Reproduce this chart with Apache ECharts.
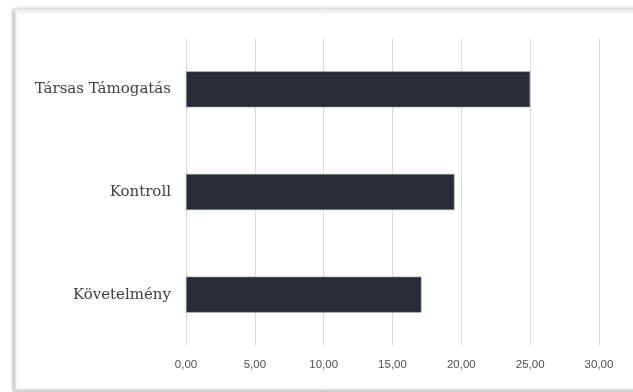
<!DOCTYPE html>
<html>
<head>
<meta charset="utf-8">
<script src="https://cdn.jsdelivr.net/npm/echarts@6/dist/echarts.min.js"></script>
<style>
html,body{margin:0;padding:0;background:#fff;}
#chart{width:633px;height:392px;}
</style>
</head>
<body>
<div id="chart"></div>
<script>
var categories = ['Követelmény', 'Kontroll', 'Társas Támogatás'];
var values = [17.1, 19.5, 25.0];
var xTicks = [0, 5, 10, 15, 20, 25, 30];

var chart = echarts.init(document.getElementById('chart'));
chart.setOption({
  animation: false,
  graphic: [{
    type: 'rect',
    z: -10,
    shape: { x: 15, y: 9, width: 640, height: 381 },
    style: {
      fill: '#fff',
      stroke: '#dcdcdc',
      lineWidth: 1,
      shadowBlur: 4,
      shadowOffsetX: -1,
      shadowOffsetY: 1,
      shadowColor: 'rgba(0,0,0,0.35)'
    }
  }],
  grid: { left: 186, right: 34, top: 38, bottom: 46, containLabel: false },
  xAxis: {
    type: 'value',
    min: xTicks[0],
    max: xTicks[xTicks.length - 1],
    interval: 5,
    axisLine: { show: false },
    axisTick: { show: false },
    splitLine: { show: true, lineStyle: { color: '#d9d9d9', width: 1 } },
    axisLabel: {
      margin: 13,
      color: '#505050',
      fontFamily: 'Liberation Sans, Arial, sans-serif',
      fontSize: 11.5,
      formatter: function (v) { return v.toFixed(2).replace('.', ','); }
    }
  },
  yAxis: {
    type: 'category',
    data: categories,
    axisLine: { show: false },
    axisTick: { show: false },
    axisLabel: {
      margin: 15,
      color: '#404040',
      fontFamily: 'DejaVu Serif, serif',
      fontSize: 15
    }
  },
  series: [{
    type: 'bar',
    data: values,
    barWidth: '35%',
    itemStyle: { color: '#272c37', borderColor: '#8f9298', borderWidth: 0.6 }
  }]
});
</script>
</body>
</html>
